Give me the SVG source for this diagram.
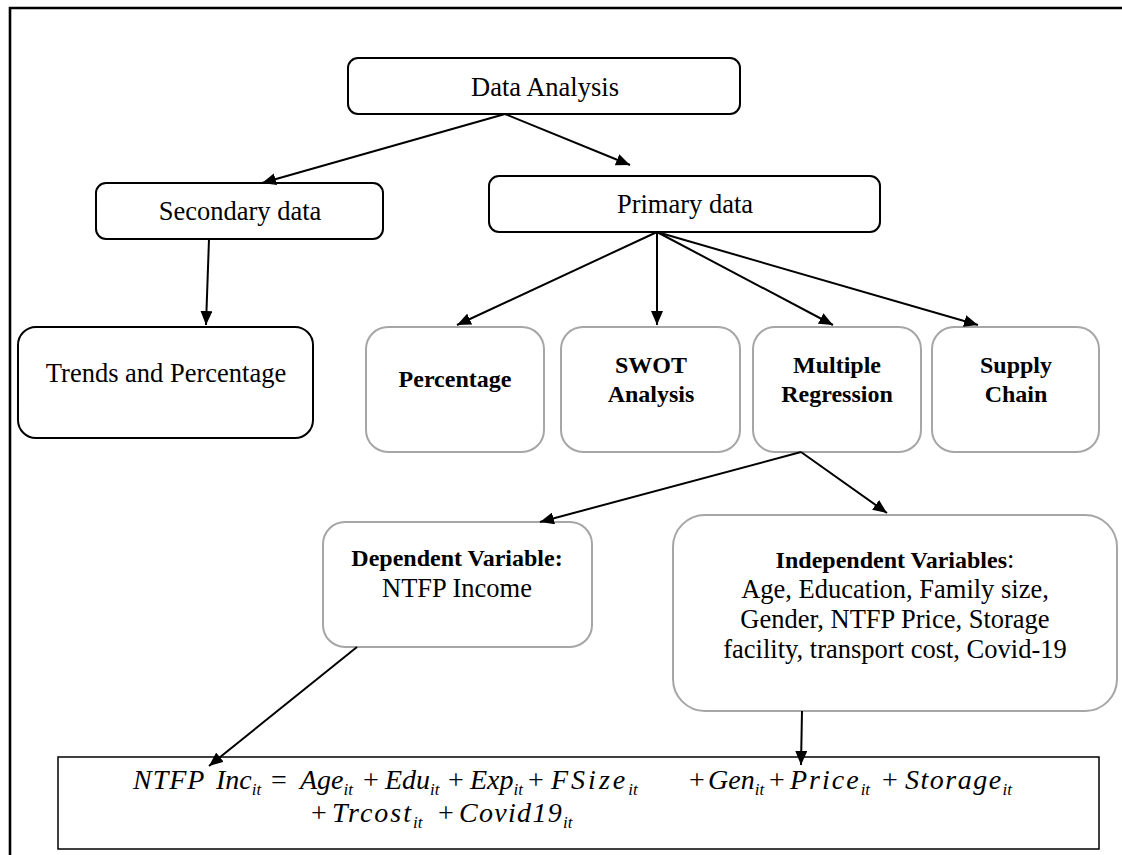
<svg xmlns="http://www.w3.org/2000/svg" width="1122" height="855" viewBox="0 0 1122 855">
<style>
  .frame{fill:none;stroke:#000;stroke-width:2.6}
  .bk{fill:#fff;stroke:#000;stroke-width:2}
  .gr{fill:#fff;stroke:#a6a6a6;stroke-width:2}
  .eqbox{fill:#fff;stroke:#000;stroke-width:1.5}
  .t{font-family:'Liberation Serif','DejaVu Serif',serif;font-size:26.5px;fill:#000}
  .b{font-family:'Liberation Serif','DejaVu Serif',serif;font-size:24px;font-weight:bold;fill:#000}
  .eq{font-family:'Liberation Serif','DejaVu Serif',serif;font-size:28px;font-style:italic;fill:#000}
  .op{font-family:'Liberation Serif','DejaVu Serif',serif;font-size:28px;fill:#000}
  .sub{font-size:17px}
  .con line{stroke:#000;stroke-width:2;marker-end:url(#ah)}
</style>
<defs>
  <marker id="ah" markerUnits="userSpaceOnUse" markerWidth="14" markerHeight="12" refX="14" refY="6" orient="auto">
    <path d="M0,0 L14,6 L0,12 z" fill="#000"/>
  </marker>
</defs>
<rect width="1122" height="855" fill="#fff"/>
<path class="frame" d="M10,855 L10,8 L1122,8"/>

<g id="n-data-analysis">
  <rect class="bk" x="348" y="58" width="392" height="56" rx="10"/>
  <text class="t" x="545" y="96" text-anchor="middle">Data Analysis</text>
</g>
<g id="n-secondary">
  <rect class="bk" x="96" y="183" width="287" height="56" rx="10"/>
  <text class="t" x="240" y="220" text-anchor="middle">Secondary data</text>
</g>
<g id="n-primary">
  <rect class="bk" x="489" y="176" width="391" height="56" rx="10"/>
  <text class="t" x="685" y="213" text-anchor="middle">Primary data</text>
</g>
<g id="n-trends">
  <rect class="bk" x="18" y="327" width="295" height="111" rx="18"/>
  <text class="t" x="166" y="382" text-anchor="middle">Trends and Percentage</text>
</g>
<g id="n-percentage">
  <rect class="gr" x="366" y="327" width="178" height="125" rx="22"/>
  <text class="b" x="455" y="387" text-anchor="middle">Percentage</text>
</g>
<g id="n-swot">
  <rect class="gr" x="561" y="327" width="179" height="125" rx="22"/>
  <text class="b" x="651" y="373" text-anchor="middle">SWOT</text>
  <text class="b" x="651" y="402" text-anchor="middle">Analysis</text>
</g>
<g id="n-regression">
  <rect class="gr" x="753" y="327" width="168" height="125" rx="22"/>
  <text class="b" x="837" y="373" text-anchor="middle">Multiple</text>
  <text class="b" x="837" y="402" text-anchor="middle">Regression</text>
</g>
<g id="n-supply">
  <rect class="gr" x="932" y="327" width="167" height="125" rx="22"/>
  <text class="b" x="1016" y="373" text-anchor="middle">Supply</text>
  <text class="b" x="1016" y="402" text-anchor="middle">Chain</text>
</g>
<g id="n-dependent">
  <rect class="gr" x="323" y="522" width="269" height="125" rx="22"/>
  <text class="b" x="457" y="566" text-anchor="middle">Dependent Variable:</text>
  <text class="t" x="457" y="597" text-anchor="middle">NTFP Income</text>
</g>
<g id="n-independent">
  <rect class="gr" x="673" y="515" width="444" height="196" rx="32"/>
  <text x="895" y="568" text-anchor="middle"><tspan class="b">Independent Variables</tspan><tspan class="t">:</tspan></text>
  <text class="t" x="895" y="598" text-anchor="middle">Age, Education, Family size,</text>
  <text class="t" x="895" y="628" text-anchor="middle">Gender, NTFP Price, Storage</text>
  <text class="t" x="895" y="658" text-anchor="middle">facility, transport cost, Covid-19</text>
</g>
<g id="n-equation">
  <rect class="eqbox" x="58" y="757" width="1041" height="92"/>
  <text class="eq" x="133" y="789" style="letter-spacing:1px">NTFP</text>
  <text class="eq" x="216" y="789">Inc<tspan class="sub" dy="6">it</tspan></text>
  <text class="op" x="279" y="789" text-anchor="middle">=</text>
  <text class="eq" x="300" y="789">Age<tspan class="sub" dy="6">it</tspan></text>
  <text class="op" x="371" y="789" text-anchor="middle">+</text>
  <text class="eq" x="385" y="789">Edu<tspan class="sub" dy="6">it</tspan></text>
  <text class="op" x="456" y="789" text-anchor="middle">+</text>
  <text class="eq" x="470" y="789">Exp<tspan class="sub" dy="6">it</tspan></text>
  <text class="op" x="536" y="789" text-anchor="middle">+</text>
  <text class="eq" x="551" y="789"><tspan style="letter-spacing:3px">FSize</tspan><tspan class="sub" dy="6">it</tspan></text>
  <text class="op" x="697" y="789" text-anchor="middle">+</text>
  <text class="eq" x="708" y="789">Gen<tspan class="sub" dy="6">it</tspan></text>
  <text class="op" x="777" y="789" text-anchor="middle">+</text>
  <text class="eq" x="790" y="789"><tspan style="letter-spacing:2px">Price</tspan><tspan class="sub" dy="6">it</tspan></text>
  <text class="op" x="890" y="789" text-anchor="middle">+</text>
  <text class="eq" x="905" y="789"><tspan style="letter-spacing:1.5px">Storage</tspan><tspan class="sub" dy="6">it</tspan></text>
  <text class="op" x="319" y="822" text-anchor="middle">+</text>
  <text class="eq" x="332" y="822"><tspan style="letter-spacing:2px">Trcost</tspan><tspan class="sub" dy="6">it</tspan></text>
  <text class="op" x="446" y="822" text-anchor="middle">+</text>
  <text class="eq" x="459" y="822"><tspan style="letter-spacing:1.3px">Covid19</tspan><tspan class="sub" dy="6">it</tspan></text>
</g>

<g id="connectors" class="con">
  <line x1="505" y1="114" x2="262" y2="183"/>
  <line x1="505" y1="114" x2="630" y2="165"/>
  <line x1="209" y1="239" x2="206" y2="325"/>
  <line x1="657" y1="232" x2="457" y2="325"/>
  <line x1="657" y1="232" x2="657" y2="325"/>
  <line x1="657" y1="232" x2="833" y2="325"/>
  <line x1="657" y1="232" x2="978" y2="325"/>
  <line x1="801" y1="452" x2="540" y2="522"/>
  <line x1="801" y1="452" x2="887" y2="513"/>
  <line x1="357" y1="647" x2="209" y2="766"/>
  <line x1="802" y1="711" x2="801" y2="765"/>
</g>
</svg>
